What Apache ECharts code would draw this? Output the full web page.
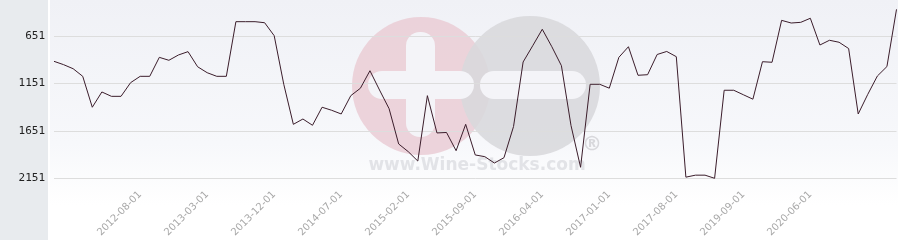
<!DOCTYPE html>
<html>
<head>
<meta charset="utf-8">
<script src="https://cdn.jsdelivr.net/npm/echarts@6/dist/echarts.min.js"></script>
<style>
html,body{margin:0;padding:0;background:#fff;}
#chart{width:904px;height:240px;}
</style>
</head>
<body>
<div id="chart"></div>
<script>
const categories = [
'2011-11-01','2011-12-01','2012-01-01','2012-02-01','2012-03-01','2012-04-01','2012-05-01','2012-06-01','2012-07-01','2012-08-01',
'2012-09-01','2012-10-01','2012-11-01','2012-12-01','2013-01-01','2013-02-01','2013-03-01',
'2013-04-01','2013-05-01','2013-07-01','2013-08-01','2013-09-01','2013-11-01','2013-12-01',
'2014-01-01','2014-02-01','2014-03-01','2014-04-01','2014-05-01','2014-06-01','2014-07-01',
'2014-08-01','2014-09-01','2014-10-01','2014-11-01','2014-12-01','2015-01-01','2015-02-01',
'2015-03-01','2015-04-01','2015-05-01','2015-06-01','2015-07-01','2015-08-01','2015-09-01',
'2015-10-01','2015-11-01','2015-12-01','2016-01-01','2016-02-01','2016-03-01','2016-04-01',
'2016-05-01','2016-06-01','2016-08-01','2016-09-01','2016-10-01','2016-12-01','2017-01-01',
'2017-02-01','2017-03-01','2017-04-01','2017-05-01','2017-06-01','2017-07-01','2017-08-01',
'2017-11-01','2018-03-01','2018-07-01','2018-11-01','2019-03-01','2019-06-01','2019-09-01',
'2019-10-01','2019-11-01','2020-01-01','2020-02-01','2020-03-01','2020-05-01','2020-06-01',
'2020-07-01','2020-08-01','2020-09-01','2020-10-01','2020-11-01','2020-12-01','2021-01-01','2021-02-01','2021-03-01'
];
const values = [
918,953,996,1076,1402,1241,1287,1287,1143,1076,
1076,876,907,851,816,975,1038,1076,1076,500,
500,500,511,648,1160,1582,1526,1592,1402,1434,
1473,1280,1202,1017,1220,1417,1789,1870,1969,1280,
1673,1668,1860,1582,1905,1923,1990,1934,1605,925,
754,580,764,964,1594,2035,1160,1160,1201,876,
764,1065,1059,846,814,869,2139,2118,2118,2151,
1223,1223,1270,1317,922,928,486,514,507,464,
746,696,717,783,1473,1266,1073,973,370
];
const yTicks = [651,1151,1651,2151];
const xLabelDates = ['2012-08-01','2013-03-01','2013-12-01','2014-07-01','2015-02-01','2015-09-01','2016-04-01','2017-01-01','2017-08-01','2019-09-01','2020-06-01'];

const chart = echarts.init(document.getElementById('chart'), null, {renderer:'canvas'});
const option = {
  animation:false,
  backgroundColor:'#ffffff',
  graphic:[
    {type:'rect', z:-20, shape:{x:50,y:0,width:848,height:205},
     style:{fill:new echarts.graphic.LinearGradient(0,0,0,1,[{offset:0,color:'#f0f1f6'},{offset:0.7,color:'#f7f8fb'},{offset:1,color:'#ffffff'}])}},
    {type:'rect', z:-20, shape:{x:0,y:0,width:48,height:240}, style:{fill:'#e8ebee'}},
    {type:'circle', z:-15, shape:{cx:421,cy:86,r:69}, style:{fill:'#eacdd5',opacity:0.85}},
    {type:'circle', z:-14, shape:{cx:530,cy:86,r:70}, style:{fill:'#d8d8dc',opacity:0.88}},
    {type:'rect', z:-13, shape:{x:406,y:32,width:29,height:105,r:14}, style:{fill:'#f4f4f8'}},
    {type:'rect', z:-13, shape:{x:368,y:71,width:106,height:28,r:14}, style:{fill:'#f4f4f8'}},
    {type:'rect', z:-13, shape:{x:480,y:71,width:106,height:28,r:14}, style:{fill:'#f4f4f8'}},
    {type:'text', z:-13, x:477, y:166, style:{text:'www.Wine-Stocks.com', fill:'#e2e3e7', font:'bold 17px "DejaVu Sans"', align:'center', verticalAlign:'middle'}},
    {type:'text', z:-13, x:592, y:145, style:{text:'®', fill:'#d8d8dc', font:'bold 20px "DejaVu Sans"', align:'center', verticalAlign:'middle'}}
  ],
  grid:{left:54, right:7.5, top:0, bottom:54, containLabel:false},
  xAxis:{
    type:'category', data:categories, boundaryGap:false,
    axisLine:{show:false}, axisTick:{show:false},
    axisLabel:{
      rotate:45, margin:7, color:'#a8a8a8', fontSize:10, fontFamily:'DejaVu Sans',
      interval:function(idx, val){ return xLabelDates.indexOf(val) >= 0; }
    },
    splitLine:{show:false}
  },
  yAxis:{
    type:'value', inverse:true, min:271.5, max:2232.2,
    axisLine:{show:false},
    axisTick:{show:false, customValues:yTicks},
    axisLabel:{customValues:yTicks, margin:9, color:'#222', fontSize:11, fontFamily:'DejaVu Sans Mono',
      formatter:function(v){ return String(v); }},
    splitLine:{show:true, lineStyle:{color:'#dddddd', width:1}}
  },
  series:[{
    type:'line', data:values, symbol:'none', smooth:false,
    lineStyle:{color:'#3b1d2b', width:1}
  }]
};
chart.setOption(option);
</script>
</body>
</html>
